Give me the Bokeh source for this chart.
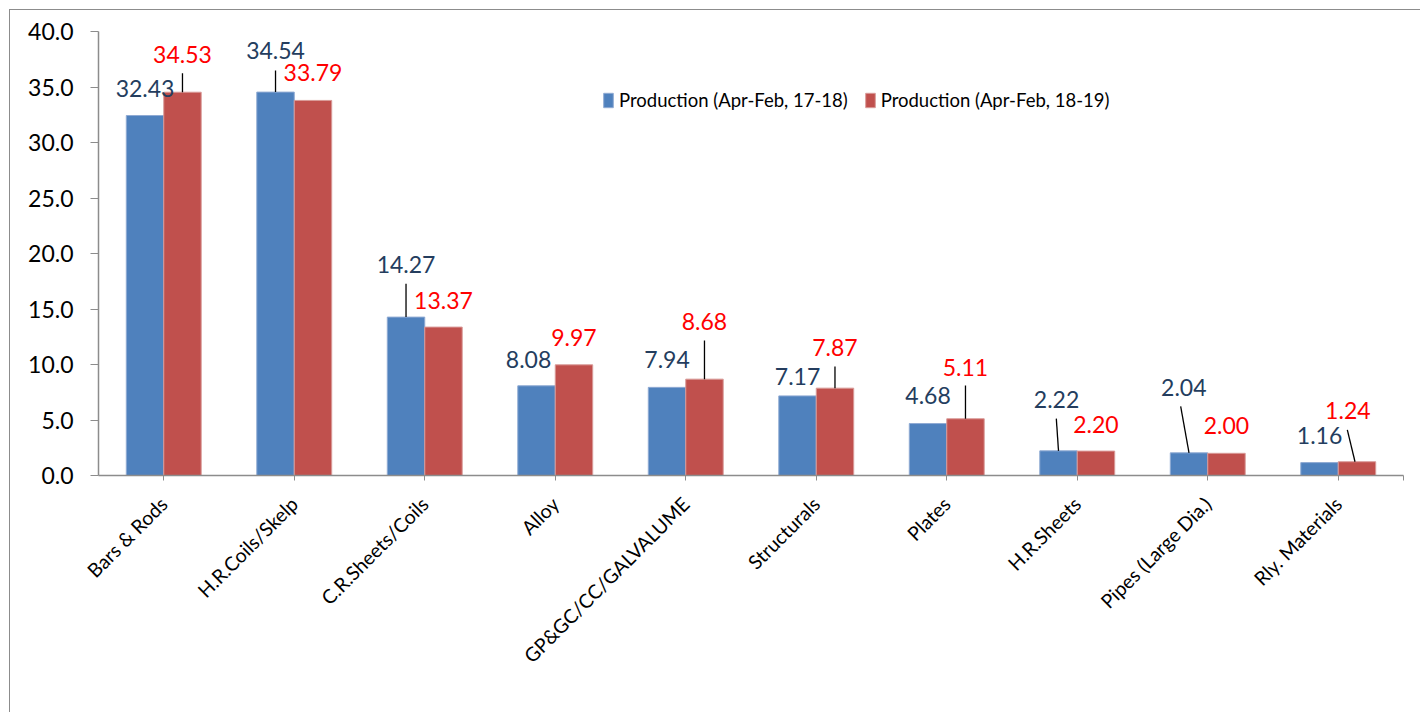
import math
from bokeh.plotting import figure
from bokeh.models import (Range1d, FixedTicker, ColumnDataSource, Legend, LegendItem,
                          PrintfTickFormatter)
from bokeh.core.properties import value
from bokeh.embed import file_html
from bokeh.resources import INLINE

# ---------------- data ----------------
categories = ["Bars & Rods", "H.R.Coils/Skelp", "C.R.Sheets/Coils", "Alloy",
              "GP&GC/CC/GALVALUME", "Structurals", "Plates", "H.R.Sheets",
              "Pipes (Large Dia.)", "Rly. Materials"]
prod_17_18 = [32.43, 34.54, 14.27, 8.08, 7.94, 7.17, 4.68, 2.22, 2.04, 1.16]
prod_18_19 = [34.53, 33.79, 13.37, 9.97, 8.68, 7.87, 5.11, 2.20, 2.00, 1.24]
series_names = ["Production (Apr-Feb, 17-18)", "Production (Apr-Feb, 18-19)"]
y_ticks = [0, 5, 10, 15, 20, 25, 30, 35, 40]

# ---------------- styles / label placement ----------------
BLUE = "#4F81BD"
RED = "#C0504D"
BLUE_TXT = "#243D5E"
RED_TXT = "#FF0000"
FONT = "Lato"
BAR_W = 0.287
OFF = BAR_W / 2

# label offsets: dx in category units, dy in value units (center of label)
blue_lab_dx = [0, 0, 0, -0.061, 0, 0, 0, -0.015, -0.04, 0]
blue_lab_dy = [2.43, 3.79, 4.74, 2.37, 2.51, 1.75, 2.52, 4.66, 5.92, 2.41]
red_lab_dx = [0, 0, 0, 0, 0, 0, 0, 0, 0, -0.07]
red_lab_dy = [3.40, 2.48, 2.44, 2.46, 5.20, 3.66, 4.62, 2.42, 2.50, 4.66]
# leader lines: (category index, top dy, top dx, bottom dx)
blue_leaders = [(1, 1.95, 0, 0), (2, 3.0, 0, 0), (7, 2.9, -0.017, 0), (8, 4.18, -0.064, 0)]
red_leaders = [(0, 1.71, 0, 0), (4, 3.49, 0, 0), (5, 1.95, 0, 0), (6, 3.0, 0, 0),
               (9, 2.87, -0.074, -0.015)]

n = len(categories)
xc = [i + 0.5 for i in range(n)]

p = figure(width=1411, height=703, output_backend="svg", toolbar_location=None,
           x_range=Range1d(0, n), y_range=Range1d(0, 40),
           min_border_left=88, min_border_right=18, min_border_top=21,
           min_border_bottom=238,
           styles={"margin-left": "9px", "margin-top": "9px",
                   "border-left": "1px solid #8C8C8C", "border-top": "1px solid #8C8C8C"})
p.outline_line_color = None
p.xgrid.visible = False
p.ygrid.visible = False
p.background_fill_color = "white"
p.border_fill_color = "white"

src_b = ColumnDataSource(dict(x=[x - OFF for x in xc], top=prod_17_18))
src_r = ColumnDataSource(dict(x=[x + OFF for x in xc], top=prod_18_19))
rb = p.vbar(x="x", top="top", width=BAR_W, source=src_b, fill_color=BLUE,
            line_color="#8FAAD3", line_width=1)
rr = p.vbar(x="x", top="top", width=BAR_W, source=src_r, fill_color=RED,
            line_color="#D99A98", line_width=1)

# leader lines
def leaders(defs, vals, side):
    x0, y0, x1, y1 = [], [], [], []
    for (i, dy, dxt, dxb) in defs:
        bx = xc[i] + side * OFF
        x0.append(bx + dxb); y0.append(vals[i])
        x1.append(bx + dxt); y1.append(vals[i] + dy)
    return dict(x0=x0, y0=y0, x1=x1, y1=y1)

p.segment(source=ColumnDataSource(leaders(blue_leaders, prod_17_18, -1)),
          x0="x0", y0="y0", x1="x1", y1="y1", line_color="black", line_width=1.3)
p.segment(source=ColumnDataSource(leaders(red_leaders, prod_18_19, 1)),
          x0="x0", y0="y0", x1="x1", y1="y1", line_color="black", line_width=1.3)

# data labels
lab_b = ColumnDataSource(dict(
    x=[xc[i] - OFF + blue_lab_dx[i] for i in range(n)],
    y=[prod_17_18[i] + blue_lab_dy[i] for i in range(n)],
    t=["%.2f" % v for v in prod_17_18]))
lab_r = ColumnDataSource(dict(
    x=[xc[i] + OFF + red_lab_dx[i] for i in range(n)],
    y=[prod_18_19[i] + red_lab_dy[i] for i in range(n)],
    t=["%.2f" % v for v in prod_18_19]))
for src, col in ((lab_b, BLUE_TXT), (lab_r, RED_TXT)):
    p.text(x="x", y="y", text="t", source=src, text_align="center",
           text_baseline="middle", text_font=value(FONT), text_font_size="23px",
           text_color=col)

# axes
AX = "#8C8C8C"
p.yaxis.ticker = FixedTicker(ticks=y_ticks)
p.yaxis.formatter = PrintfTickFormatter(format="%.1f")
p.yaxis.major_label_text_font = FONT
p.yaxis.major_label_text_font_size = "23px"
p.yaxis.major_label_text_color = "black"
p.yaxis.major_tick_out = 8
p.yaxis.major_tick_in = 0
p.yaxis.minor_tick_line_color = None
p.yaxis.axis_line_color = AX
p.yaxis.major_tick_line_color = AX
p.yaxis.axis_line_width = 1.5
p.yaxis.major_label_standoff = 17

p.xaxis.ticker = FixedTicker(ticks=xc + [n])
p.xaxis.major_label_overrides = {**{xc[i]: categories[i] for i in range(n)}, n: ""}
p.xaxis.major_label_orientation = math.pi / 4
p.xaxis.major_label_text_font = FONT
p.xaxis.major_label_text_font_size = "19.5px"
p.xaxis.major_label_text_color = "black"
p.xaxis.major_tick_out = 5
p.xaxis.major_tick_in = 0
p.xaxis.minor_tick_line_color = None
p.xaxis.axis_line_color = AX
p.xaxis.major_tick_line_color = AX
p.xaxis.axis_line_width = 1.5
p.xaxis.major_label_standoff = 20

legend = Legend(items=[LegendItem(label=series_names[0], renderers=[rb]),
                       LegendItem(label=series_names[1], renderers=[rr])],
                orientation="horizontal", location=(504, 364),
                glyph_width=12, glyph_height=18, label_height=18,
                label_standoff=5, spacing=16, padding=0, margin=0,
                label_text_font=FONT, label_text_font_size="18.5px",
                label_text_color="black",
                border_line_color=None, background_fill_alpha=0)
p.add_layout(legend)

open("out.html", "w").write(file_html(p, INLINE))
